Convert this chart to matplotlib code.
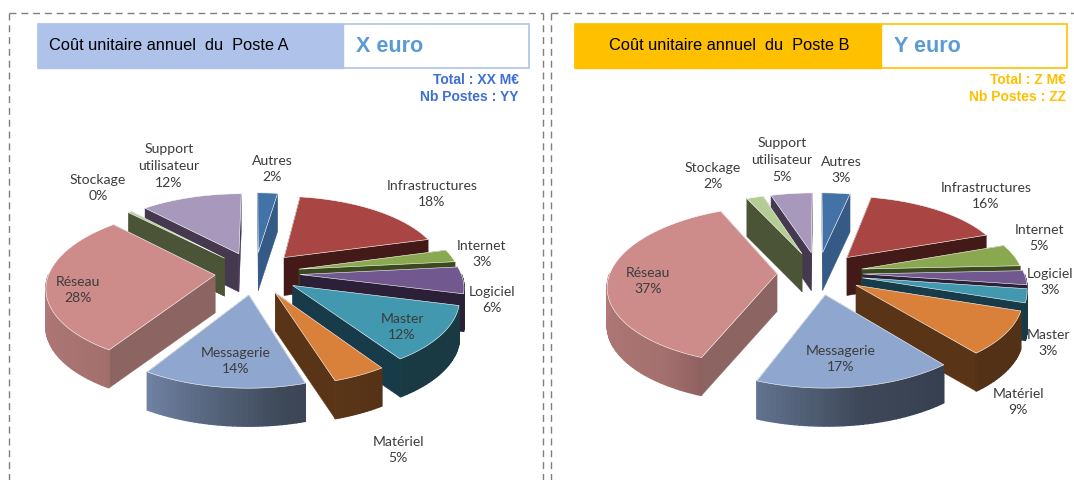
import numpy as np
import matplotlib
matplotlib.use("Agg")
import matplotlib.pyplot as plt
from matplotlib.patches import Polygon, Rectangle

categories = ["Autres", "Infrastructures", "Internet", "Logiciel", "Master", "Matériel",
              "Messagerie", "Réseau", "Stockage", "Support\nutilisateur"]
values_a = [2.4, 18.4, 2.6, 5.5, 11.6, 4.6, 14.0, 28.4, 0.4, 12.1]
values_b = [3.4, 16.3, 4.6, 2.9, 2.8, 9.0, 17.0, 37.0, 2.0, 5.0]

top_colors = ["#4372a7", "#a94644", "#8aa84f", "#71588f", "#4198af", "#d9813b",
              "#8fa7cf", "#cd8c8a", "#b5cd94", "#a898bb"]
side_colors = ["#355a85", "#431a18", "#3a4a1e", "#2c2038", "#173b48", "#5a3416",
               "#4b5a75", "#8c6461", "#4c5438", "#44394f"]

label_pos_a = [(272, 169), (432, 194), (482, 254), (492, 300), (402, 327), (398, 450),
               (236, 361), (78, 290), (98, 188), (169, 166)]
label_pos_b = [(841, 170), (986, 196), (1039, 238), (1050, 282), (1048, 343), (1018, 402),
               (841, 359), (648, 281), (713, 176), (782, 160)]

explode_a = [45, 45, 45, 45, 45, 45, 45, 40, 45, 45]
explode_b = [45, 45, 45, 45, 45, 45, 45, 41, 45, 45]
radius_a = [161, 161, 161, 161, 161, 161, 161, 166, 161, 161]
radius_b = [161, 161, 161, 161, 161, 161, 161, 167, 161, 161]

REF, K, P, H = 206.0, 0.475, 0.18, 38.0

fig = plt.figure(figsize=(10.74, 4.8), dpi=100)
ax = fig.add_axes([0, 0, 1, 1])
ax.set_xlim(0, 1074)
ax.set_ylim(480, 0)
ax.axis("off")


def project(cx, cy, X, Y, dz=0.0):
    s = 1 + P * Y / REF
    return cx + X * s, cy + Y * K * s + dz


def shade(color, f):
    return tuple(c * f for c in matplotlib.colors.to_rgb(color))


def draw_pie(values, explode, radius, cx, cy):
    vals = np.array(values, float)
    fr = vals / vals.sum()
    edges = np.concatenate([[0], np.cumsum(fr)]) * 2 * np.pi
    slices = []
    for i in range(len(vals)):
        t0, t1 = edges[i], edges[i + 1]
        mid = (t0 + t1) / 2
        ox, oy = explode[i] * np.sin(mid), -explode[i] * np.cos(mid)
        ts = np.linspace(t0, t1, max(3, int(np.degrees(t1 - t0) / 1.5) + 2))
        key = oy + 0.6 * radius[i] * (-np.cos(mid))
        slices.append((key, i, ox, oy, ts, ox + radius[i] * np.sin(ts), oy - radius[i] * np.cos(ts)))
    slices.sort(key=lambda s: s[0])
    z = 10
    for _, i, ox, oy, ts, xs, ys in slices:
        apex_t = project(cx, cy, ox, oy)
        apex_b = project(cx, cy, ox, oy, H)
        top = [project(cx, cy, x, y) for x, y in zip(xs, ys)]
        bot = [project(cx, cy, x, y, H) for x, y in zip(xs, ys)]
        for a, b in ((top[0], bot[0]), (top[-1], bot[-1])):
            ax.add_patch(Polygon([apex_t, a, b, apex_b], closed=True, fc=side_colors[i],
                                 ec=side_colors[i], lw=0.3, zorder=z))
        z += 1
        for j in range(len(ts) - 1):
            tm = (ts[j] + ts[j + 1]) / 2
            if -np.cos(tm) <= 0:
                continue
            f = np.interp(np.degrees(tm), [140, 170, 215, 280], [0.38, 0.43, 0.8, 0.88])
            c = shade(top_colors[i], f)
            ax.add_patch(Polygon([top[j], top[j + 1], bot[j + 1], bot[j]], closed=True,
                                 fc=c, ec=c, lw=1.0, zorder=z))
        z += 1
        ax.add_patch(Polygon([apex_t] + top, closed=True, fc=top_colors[i],
                             ec="white", lw=0.4, zorder=z))
        z += 1


def draw_labels(values, positions):
    for name, v, (x, y) in zip(categories, values, positions):
        ax.text(x, y, f"{name}\n{round(v)}%", ha="center", va="center", fontsize=10.1,
                family="Lato", color="#3c3c3c", linespacing=1.48, zorder=500)


def draw_header(x0, xm, x1, fill, title, title_x, amount, total, postes, text_color, right):
    ax.add_patch(Rectangle((x0, 24), x1 - x0, 44, fc="white", ec=fill, lw=1.2, zorder=5))
    ax.add_patch(Rectangle((x0, 24), xm - x0, 44, fc=fill, ec=fill, lw=1.0, zorder=6))
    ax.text(title_x, 46, title, ha="left", va="center", fontsize=11.8,
            family="Liberation Sans", color="black", zorder=7)
    ax.text(xm + 13, 46.5, amount, ha="left", va="center", fontsize=15.5, fontweight="bold",
            family="Liberation Sans", color="#5b9bd5", zorder=7)
    ax.text(right, 80, total, ha="right", va="center", fontsize=10, fontweight="bold",
            family="Liberation Sans", color=text_color, zorder=7)
    ax.text(right, 97, postes, ha="right", va="center", fontsize=10, fontweight="bold",
            family="Liberation Sans", color=text_color, zorder=7)


dash = dict(color="#7f7f7f", lw=1.0, linestyle=(0, (5, 3.5)), zorder=1)
ax.plot([9, 543], [13, 13], **dash)
ax.plot([9, 9], [13, 480], **dash)
ax.plot([543, 543], [13, 480], **dash)
ax.plot([551, 1074], [13, 13], **dash)
ax.plot([551, 551], [13, 480], **dash)

draw_header(38, 343, 529, "#aec2ea", "Coût unitaire annuel  du  Poste A", 49, "X euro",
            "Total : XX M€", "Nb Postes : YY", "#3f6fd1", 519)
draw_header(575, 881, 1067, "#ffc000", "Coût unitaire annuel  du  Poste B", 609, "Y euro",
            "Total : Z M€", "Nb Postes : ZZ", "#ffc000", 1066)

draw_pie(values_a, explode_a, radius_a, 255, 273)
draw_pie(values_b, explode_b, radius_b, 818, 273)
draw_labels(values_a, label_pos_a)
draw_labels(values_b, label_pos_b)

fig.savefig("out.png", dpi=100, facecolor="white")
